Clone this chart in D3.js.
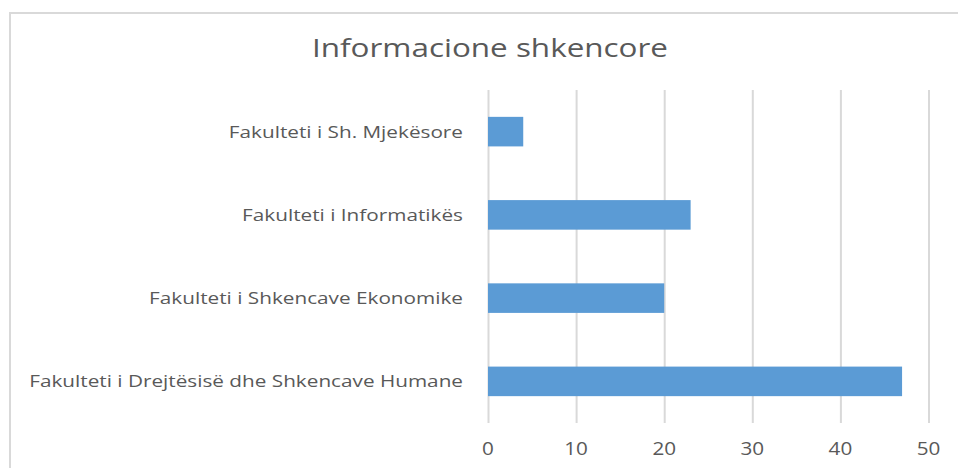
<!DOCTYPE html>
<html>
  <head>
    <meta charset="utf-8">
    <title></title>
  </head>
  <style>
    body{
      margin: 0;
      background-color: #fff;
      font-family: "Open Sans", sans-serif;
    }
    .grid line{
      stroke: #d9d9d9;
      stroke-width: 2px
    }
    .grid .domain{ display: none }
    .label{ fill: #595959 }
  </style>
  <script src="https://d3js.org/d3.v7.min.js"></script>
  <body>
    <script>
    const categories = [
      "Fakulteti i Sh. Mjekësore",
      "Fakulteti i Informatikës",
      "Fakulteti i Shkencave Ekonomike",
      "Fakulteti i Drejtësisë dhe Shkencave Humane"
    ]
    const values = [4, 23, 20, 47]
    const ticks = [0, 10, 20, 30, 40, 50]
    const title = "Informacione shkencore"

    var width = 958
    var height = 468
    var plot = { left: 488, right: 928.5, top: 90, bottom: 423 }
    // the source picture is a bit stretched sideways
    var stretch = 1.22

    var svg = d3.select("body")
                .append("svg")
                .attr("width", width)
                .attr("height", height)

    // chart frame (cut off on the right and bottom)
    svg.append("rect")
       .attr("x", 10)
       .attr("y", 13)
       .attr("width", width + 20)
       .attr("height", height + 20)
       .attr("fill", "#fff")
       .attr("stroke", "#d9d9d9")
       .attr("stroke-width", 2)

    // title
    svg.append("text")
       .attr("class", "label")
       .attr("x", 490)
       .attr("y", 57)
       .attr("text-anchor", "middle")
       .attr("font-size", "26px")
       .attr("textLength", 356)
       .attr("lengthAdjust", "spacingAndGlyphs")
       .text(title)

    let xScale = d3.scaleLinear()
                   .domain([0, 50])
                   .range([plot.left, plot.right])

    let yScale = d3.scaleBand()
                   .domain(categories)
                   .range([plot.top, plot.bottom])
                   .paddingInner(0.645)
                   .paddingOuter(0.3225)

    // vertical gridlines
    svg.append("g")
       .attr("class", "grid")
       .attr("transform", "translate(0," + plot.bottom + ")")
       .call(d3.axisBottom(xScale)
               .tickValues(ticks)
               .tickSize(-(plot.bottom - plot.top))
               .tickFormat(""))

    // x tick labels
    svg.append("g")
       .selectAll("text")
       .data(ticks)
       .enter()
       .append("text")
       .attr("class", "label")
       .attr("transform", d => `translate(${xScale(d)}, 455) scale(1.15, 1)`)
       .attr("text-anchor", "middle")
       .attr("font-size", "18px")
       .text(d => d)

    // bars
    svg.append("g")
       .selectAll("rect")
       .data(values)
       .enter()
       .append("rect")
       .attr("x", xScale(0))
       .attr("y", (d, i) => yScale(categories[i]))
       .attr("width", d => xScale(d) - xScale(0))
       .attr("height", yScale.bandwidth())
       .attr("fill", "#5b9bd5")

    // category labels
    svg.append("g")
       .selectAll("text")
       .data(categories)
       .enter()
       .append("text")
       .attr("class", "label")
       .attr("transform", d => `translate(463, ${yScale(d) + yScale.bandwidth() / 2}) scale(${stretch}, 1)`)
       .attr("dy", "0.35em")
       .attr("text-anchor", "end")
       .attr("font-size", "17px")
       .text(d => d)
    </script>
  </body>
</html>
